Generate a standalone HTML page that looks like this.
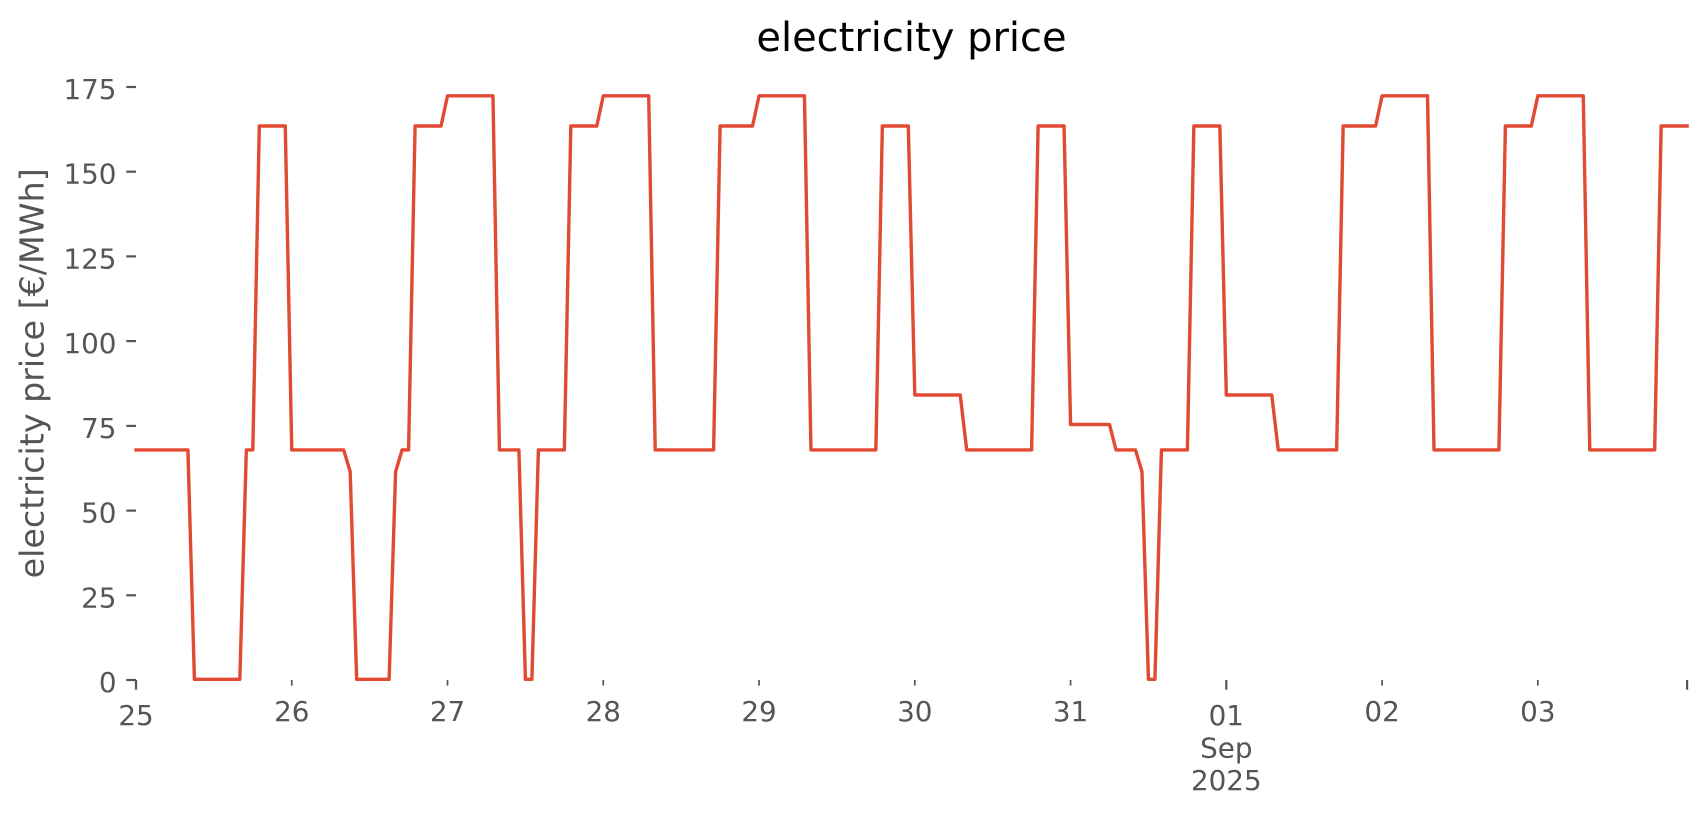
<!DOCTYPE html>
<html>
<head>
<meta charset="utf-8">
<style>
  html, body { margin: 0; padding: 0; background: #ffffff; }
  svg { display: block; }
  text { font-family: "DejaVu Sans", "Liberation Sans", sans-serif; }
</style>
</head>
<body>
<svg width="1706" height="815" viewBox="0 0 1706 815" xmlns="http://www.w3.org/2000/svg">
  <rect x="0" y="0" width="1706" height="815" fill="#ffffff"/>

  <!-- Title -->
  <text x="911.5" y="51" font-size="40" fill="#000000" text-anchor="middle">electricity price</text>

  <!-- Y axis label -->
  <text transform="translate(43.3,373.3) rotate(-90)" font-size="33.3" fill="#555555" text-anchor="middle">electricity price [€/MWh]</text>

  <!-- Y ticks -->
  <g stroke="#555555" stroke-width="2.2">
    <line x1="126.3" y1="680" x2="136" y2="680"/>
    <line x1="126.3" y1="595.3" x2="136" y2="595.3"/>
    <line x1="126.3" y1="510.6" x2="136" y2="510.6"/>
    <line x1="126.3" y1="425.9" x2="136" y2="425.9"/>
    <line x1="126.3" y1="341.1" x2="136" y2="341.1"/>
    <line x1="126.3" y1="256.4" x2="136" y2="256.4"/>
    <line x1="126.3" y1="171.7" x2="136" y2="171.7"/>
    <line x1="126.3" y1="87" x2="136" y2="87"/>
  </g>
  <g font-size="27.8" fill="#555555" text-anchor="end">
    <text x="116.5" y="692">0</text>
    <text x="116.5" y="607.3">25</text>
    <text x="116.5" y="522.6">50</text>
    <text x="116.5" y="437.9">75</text>
    <text x="116.5" y="353.1">100</text>
    <text x="116.5" y="268.4">125</text>
    <text x="116.5" y="183.7">150</text>
    <text x="116.5" y="99">175</text>
  </g>

  <!-- X ticks: major -->
  <g stroke="#555555" stroke-width="2.2">
    <line x1="136" y1="680" x2="136" y2="689.7"/>
    <line x1="1226.3" y1="680" x2="1226.3" y2="689.7"/>
    <line x1="1687.1" y1="680" x2="1687.1" y2="689.7"/>
  </g>
  <!-- X ticks: minor -->
  <g stroke="#555555" stroke-width="1.7">
    <line x1="291.76" y1="680" x2="291.76" y2="685.6"/>
    <line x1="447.52" y1="680" x2="447.52" y2="685.6"/>
    <line x1="603.28" y1="680" x2="603.28" y2="685.6"/>
    <line x1="759.04" y1="680" x2="759.04" y2="685.6"/>
    <line x1="914.8" y1="680" x2="914.8" y2="685.6"/>
    <line x1="1070.56" y1="680" x2="1070.56" y2="685.6"/>
    <line x1="1382.08" y1="680" x2="1382.08" y2="685.6"/>
    <line x1="1537.84" y1="680" x2="1537.84" y2="685.6"/>
  </g>
  <g font-size="27.8" fill="#555555" text-anchor="middle">
    <text x="136" y="725">25</text>
    <text x="291.76" y="721">26</text>
    <text x="447.52" y="721">27</text>
    <text x="603.28" y="721">28</text>
    <text x="759.04" y="721">29</text>
    <text x="914.8" y="721">30</text>
    <text x="1070.56" y="721">31</text>
    <text x="1226.32" y="725">01</text>
    <text x="1226.32" y="757.5">Sep</text>
    <text x="1226.32" y="790">2025</text>
    <text x="1382.08" y="721">02</text>
    <text x="1537.84" y="721">03</text>
  </g>

  <!-- Series -->
  <g transform="translate(136,0) scale(0.998769,1) translate(-136,0)">
  <polyline fill="none" stroke="#E24A33" stroke-width="3.4" stroke-linejoin="round" stroke-linecap="square" vector-effect="non-scaling-stroke"
    points="
136,449.9 187.98,449.9
194.48,679.3 239.97,679.3
246.47,449.9 252.96,449.9
259.46,126 285.45,126
291.95,449.9 343.94,449.9
350.43,471.6
356.93,679.3 389.42,679.3
395.92,471.6
402.42,449.9 408.92,449.9
415.41,126 441.41,126
447.9,95.8 493.39,95.8
499.89,449.9 519.38,449.9
525.88,679.3 532.38,679.3
538.88,449.9 564.87,449.9
571.37,126 597.36,126
603.86,95.8 649.34,95.8
655.84,449.9 714.32,449.9
720.82,126 753.31,126
759.81,95.8 805.29,95.8
811.79,449.9 876.77,449.9
883.27,126 909.26,126
915.76,395 961.25,395
967.74,449.9 1032.72,449.9
1039.22,126 1065.21,126
1071.71,424.5 1110.7,424.5
1117.2,449.9 1136.69,449.9
1143.19,471.6
1149.69,679.3 1156.19,679.3
1162.68,449.9 1188.68,449.9
1195.17,126 1221.17,126
1227.66,395 1273.15,395
1279.65,449.9 1338.13,449.9
1344.63,126 1377.12,126
1383.62,95.8 1429.1,95.8
1435.6,449.9 1500.58,449.9
1507.08,126 1533.07,126
1539.57,95.8 1585.05,95.8
1591.55,449.9 1656.53,449.9
1663.03,126 1689.02,126
"/>
  </g>
</svg>
</body>
</html>
